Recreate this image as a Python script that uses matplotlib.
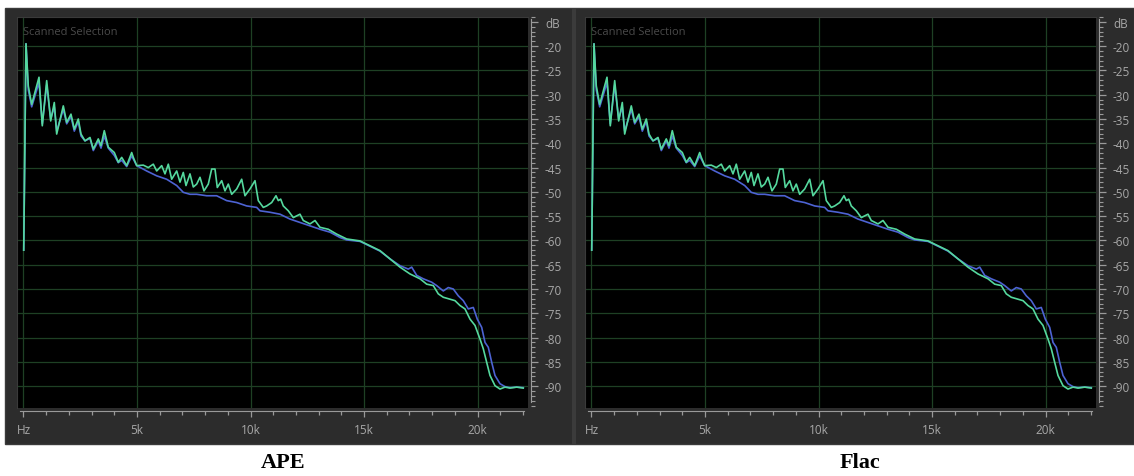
import matplotlib
matplotlib.use("Agg")
import matplotlib.pyplot as plt
from matplotlib.patches import Rectangle
from matplotlib.ticker import FixedLocator, MultipleLocator

# spectrum (Hz, dB)
green_hz = [10, 110, 211, 361, 683, 828, 1022, 1198, 1357, 1462, 1753, 1903, 2092, 2238,
            2414, 2533, 2709, 2929, 3075, 3295, 3414, 3559, 3735, 4000, 4176, 4326, 4546,
            4766, 4837, 4987, 5277, 5497, 5718, 5868, 6088, 6233, 6379, 6528, 6749, 6894,
            7039, 7158, 7334, 7480, 7630, 7775, 7951, 8141, 8290, 8436, 8537, 8731, 8876,
            9022, 9171, 9392, 9612, 9757, 9977, 10198, 10343, 10563, 10713, 10933, 11123,
            11224, 11330, 11444, 11665, 11885, 12180, 12325, 12621, 12841, 13061, 13427,
            13797, 14237, 14823, 15264, 15704, 16145, 16585, 17026, 17466, 17761, 18052,
            18272, 18492, 18788, 19008, 19228, 19448, 19669, 19889, 20109, 20254, 20404,
            20550, 20770, 20990, 21210, 21431, 21726, 22016]
green_db = [-62.0, -19.5, -28.2, -32.0, -26.4, -36.4, -27.1, -35.4, -31.6, -38.1, -32.3,
            -35.7, -34.0, -37.1, -35.0, -38.1, -39.5, -38.8, -41.2, -39.1, -40.5, -37.4,
            -40.8, -41.9, -43.9, -42.9, -44.6, -41.9, -42.9, -44.6, -44.5, -45.0, -44.3,
            -45.7, -44.6, -46.3, -44.3, -47.4, -45.7, -48.0, -46.0, -48.7, -46.3, -49.0,
            -48.4, -47.0, -49.8, -48.4, -45.3, -45.3, -49.1, -47.7, -49.8, -48.4, -50.5,
            -49.4, -47.4, -50.8, -49.4, -47.7, -51.8, -53.2, -52.9, -52.2, -50.8, -51.8,
            -51.5, -52.9, -53.9, -55.3, -54.6, -55.9, -56.6, -55.9, -57.3, -57.7, -58.7,
            -59.7, -60.1, -61.1, -62.1, -63.8, -65.5, -66.9, -67.9, -69.0, -69.3, -71.0,
            -71.7, -72.1, -72.4, -73.4, -74.1, -76.2, -77.5, -80.3, -82.3, -85.1, -87.8,
            -89.9, -90.6, -90.2, -90.4, -90.2, -90.4]

blue_hz = [10, 110, 211, 361, 683, 828, 1022, 1198, 1357, 1462, 1753, 1903, 2092, 2238,
           2414, 2533, 2709, 2929, 3075, 3295, 3414, 3559, 3735, 4000, 4176, 4326, 4546,
           4766, 4987, 5427, 5868, 6307, 6749, 7039, 7334, 7630, 8068, 8508, 8949, 9392,
           9832, 10272, 10418, 10858, 11299, 11739, 12180, 12621, 13061, 13502, 13942,
           14237, 14823, 15264, 15704, 16145, 16585, 16951, 17101, 17321, 17612, 17982,
           18202, 18492, 18713, 18933, 19153, 19373, 19594, 19814, 19990, 20184, 20330,
           20475, 20625, 20770, 20990, 21210, 21431, 21726, 22016]
blue_db = [-62.0, -19.5, -29.0, -32.5, -27.5, -36.0, -28.0, -35.0, -32.5, -37.5, -33.0,
           -36.0, -34.5, -37.5, -35.5, -38.5, -39.5, -39.0, -41.5, -39.5, -41.0, -38.5,
           -41.0, -42.5, -44.0, -43.5, -44.8, -42.6, -44.6, -45.7, -46.7, -47.4, -48.7,
           -50.1, -50.5, -50.5, -50.8, -50.8, -51.8, -52.2, -52.9, -53.2, -53.9, -54.2,
           -54.6, -55.6, -56.3, -57.0, -57.7, -58.3, -59.4, -59.9, -60.2, -61.2, -62.2,
           -63.8, -65.2, -65.9, -65.5, -67.2, -67.9, -68.6, -69.3, -70.4, -69.7, -70.0,
           -71.4, -72.4, -74.1, -73.8, -76.2, -77.9, -81.0, -82.0, -85.1, -87.8, -89.5,
           -90.1, -90.3, -90.2, -90.3]

panel_names = ["APE", "Flac"]
x_major = [0, 5000, 10000, 15000, 20000]
x_labels = ["Hz", "5k", "10k", "15k", "20k"]
y_major = list(range(-15, -91, -5))
y_labels = ["dB"] + [str(v) for v in y_major[1:]]

W, H = 1134, 477
fig = plt.figure(figsize=(W / 100, H / 100), dpi=100)
fig.patch.set_facecolor("white")

# dark frame behind both analyser windows, plus a divider between them
fig.patches.append(Rectangle((5 / W, 1 - 445 / H), (1134 - 5) / W, (445 - 9) / H,
                             transform=fig.transFigure, facecolor="#2c2c2c",
                             edgecolor="#3a3a3a", lw=1.0, zorder=-10))
fig.patches.append(Rectangle((572 / W, 1 - 445 / H), 4 / W, (445 - 9) / H,
                             transform=fig.transFigure, facecolor="#3b3b3b",
                             edgecolor="none", zorder=-9))

tick_color = "#a8a8a8"
font = "Open Sans"

for i, name in enumerate(panel_names):
    off = 568 * i
    ax = fig.add_axes([(17 + off) / W, 1 - 409 / H, 511 / W, 391 / H])
    ax.set_facecolor("black")
    ax.plot(blue_hz, blue_db, color="#4d63d3", lw=1.2, zorder=3)
    ax.plot(green_hz, green_db, color="#55d89e", lw=1.2, zorder=4)

    ax.set_xlim(-286, 22224)
    ax.set_ylim(-94.5, -14.0)

    for v in x_major:
        ax.axvline(v, color="#1e4024", lw=0.9, zorder=1)
    for v in y_major[1:]:
        ax.axhline(v, color="#1e4024", lw=0.9, zorder=1)

    ax.spines["top"].set_color("#3a3a3a")
    ax.spines["left"].set_color("#3a3a3a")
    ax.spines["right"].set_position(("outward", 2.2))
    ax.spines["bottom"].set_position(("outward", 2.2))
    ax.spines["right"].set_color("#9a9a9a")
    ax.spines["bottom"].set_color("#9a9a9a")
    ax.spines["right"].set_bounds(-93.3, -14.4)
    ax.spines["bottom"].set_bounds(-150, 22050)

    ax.yaxis.tick_right()
    ax.xaxis.set_major_locator(FixedLocator(x_major))
    ax.xaxis.set_minor_locator(MultipleLocator(1000))
    ax.set_xticklabels(x_labels)
    ax.yaxis.set_major_locator(FixedLocator(y_major))
    ax.yaxis.set_minor_locator(MultipleLocator(1))
    ax.set_yticklabels(y_labels)

    ax.tick_params(axis="x", which="major", direction="out", length=4.3, width=0.9,
                   color="#9a9a9a", pad=4, labelcolor=tick_color, labelsize=8.5)
    ax.tick_params(axis="x", which="minor", direction="out", length=2.6, width=0.9,
                   color="#9a9a9a")
    ax.tick_params(axis="y", which="major", direction="out", length=5, width=0.9,
                   color="#9a9a9a", pad=5, labelcolor=tick_color, labelsize=8.5)
    ax.tick_params(axis="y", which="minor", direction="out", length=2.8, width=0.8,
                   color="#9a9a9a")
    for lab in ax.get_xticklabels() + ax.get_yticklabels():
        lab.set_fontfamily(font)

    ax.text(0.012, 0.962, "Scanned Selection", transform=ax.transAxes, color="#4a4a4a",
            fontsize=8, fontfamily=font, ha="left", va="center")

    fig.text((283 + 577 * i) / W, 1 - 463 / H, name, fontfamily="Liberation Serif",
             fontweight="bold", fontsize=16, ha="center", va="center", color="black")

fig.savefig("out.png", dpi=100, facecolor=fig.get_facecolor())
